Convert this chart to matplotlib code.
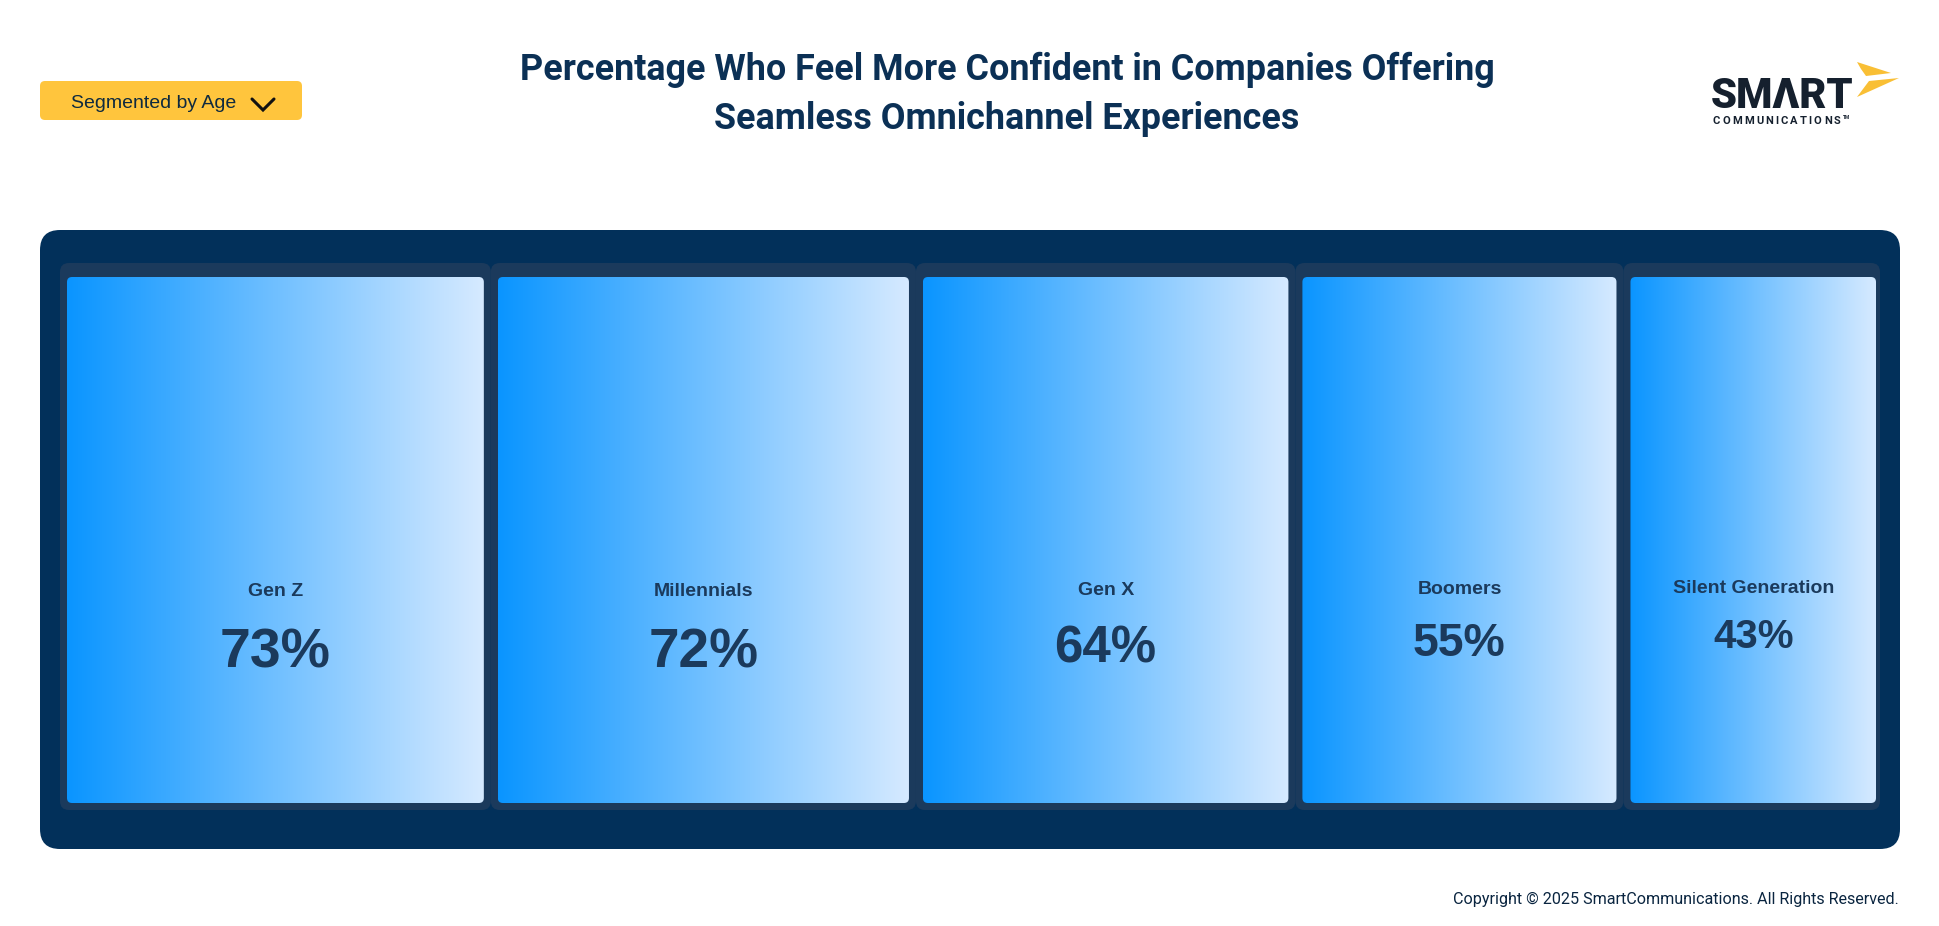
import numpy as np
import matplotlib
matplotlib.use("Agg")
import matplotlib.pyplot as plt
from matplotlib.patches import FancyBboxPatch, Polygon
from matplotlib.colors import LinearSegmentedColormap
from matplotlib.lines import Line2D

# data
groups = ["Gen Z", "Millennials", "Gen X", "Boomers", "Silent Generation"]
values = [73, 72, 64, 55, 43]
title_lines = ["Percentage Who Feel More Confident in Companies Offering",
               "Seamless Omnichannel Experiences"]

W, H = 1940, 926
fig = plt.figure(figsize=(W / 100, H / 100), dpi=100)
fig.patch.set_facecolor("white")

# background axes in pixel units
bg = fig.add_axes([0, 0, 1, 1])
bg.set_xlim(0, W)
bg.set_ylim(H, 0)
bg.axis("off")

navy = "#02305A"
strip = "#1B3A5C"
text_navy = "#0B3055"

# outer panel
bg.add_patch(FancyBboxPatch((40, 230), 1860, 619,
                            boxstyle="round,pad=0,rounding_size=20",
                            fc=navy, ec="none"))

# dropdown button
bg.add_patch(FancyBboxPatch((40, 81), 262, 39,
                            boxstyle="round,pad=0,rounding_size=5",
                            fc="#FFC53D", ec="none"))
bg.text(71, 103, "Segmented by Age", fontsize=14, family="Liberation Sans",
        color="#0F2A3F", ha="left", va="center")
bg.add_line(Line2D([252, 263, 274], [99, 110, 99], color="#111111", lw=2.2,
                   solid_capstyle="round", solid_joinstyle="miter"))

# title
for i, line in enumerate(title_lines):
    bg.text(1007, 80 + i * 49, line, fontsize=25.8, family="Roboto",
            fontweight="bold", color=text_navy, ha="center", va="baseline")

# logo
logo_col = "#15202E"
bg.text(1711, 108, "SMΛRT", fontsize=30, family="Roboto", fontweight="heavy",
        color=logo_col, ha="left", va="baseline")
renderer = fig.canvas.get_renderer()
x = 1713
for ch in "COMMUNICATIONS":
    t = bg.text(x, 124, ch, fontsize=8, family="Roboto", fontweight="bold",
                color=logo_col, ha="left", va="baseline")
    bb = t.get_window_extent(renderer=renderer)
    x += bb.width + 2.1
bg.text(x + 0.5, 119, "TM", fontsize=3.5, family="Roboto", fontweight="bold",
        color=logo_col, ha="left", va="baseline")
bg.add_patch(Polygon([(1857, 62), (1891, 73), (1866, 76), (1861, 69)],
                     closed=True, fc="#F9BF35", ec="none"))
bg.add_patch(Polygon([(1869, 81), (1899, 78), (1857, 97)],
                     closed=True, fc="#F9BF35", ec="none"))

# copyright
bg.text(1899, 899, "Copyright © 2025 SmartCommunications. All Rights Reserved.",
        fontsize=11.6, family="Roboto", color="#0A2540", ha="right", va="center")

# bar axes: x in percentage units, y in pixels
x0_px, x1_px = 67, 1876
top_px, bot_px = 277, 803
ax = fig.add_axes([x0_px / W, 1 - bot_px / H, (x1_px - x0_px) / W,
                   (bot_px - top_px) / H])
ax.axis("off")

gap_px = 14
total = sum(values)
px_per_unit = (x1_px - x0_px - gap_px * (len(values) - 1)) / total
gap = gap_px / px_per_unit
lefts = np.concatenate([[0], np.cumsum(np.array(values) + gap)[:-1]])
xmax = total + gap * (len(values) - 1)

bars = ax.bar(lefts, bot_px - top_px, width=values, bottom=top_px,
              align="edge", color="none", edgecolor="none")
ax.set_xlim(0, xmax)
ax.set_ylim(bot_px, top_px)

cmap = LinearSegmentedColormap.from_list("grad", ["#0A95FF", "#D6EAFF"])
grad = np.linspace(0, 1, 256).reshape(1, -1)
pad = 7 / px_per_unit

for i, (rect, g, v) in enumerate(zip(bars, groups, values)):
    l = rect.get_x()
    w = rect.get_width()
    # strip segment behind the bar
    pr = pad if i < len(values) - 1 else 4 / px_per_unit
    seg = FancyBboxPatch((l - pad, top_px - 14), w + pad + pr, bot_px - top_px + 21,
                         boxstyle="round,pad=0,rounding_size=%f" % (9 / px_per_unit),
                         mutation_aspect=px_per_unit,
                         fc=strip, ec="none", clip_on=False, zorder=0)
    ax.add_patch(seg)
    box = FancyBboxPatch((l, top_px), w, bot_px - top_px,
                         boxstyle="round,pad=0,rounding_size=%f" % (5 / px_per_unit),
                         mutation_aspect=px_per_unit,
                         fc="none", ec="none", zorder=1)
    ax.add_patch(box)
    im = ax.imshow(grad, cmap=cmap, aspect="auto", interpolation="bilinear",
                   extent=(l, l + w, bot_px, top_px), zorder=1)
    im.set_clip_path(box)

    cx = l + w / 2
    vs = 13.2 + 0.367 * v
    ly = 592 - (73 - v) * 0.12
    vy = ly + 14 + 1.2 * vs
    ax.text(cx, ly, g, fontsize=14, family="Liberation Sans", fontweight="bold",
            color="#1B3A5C", ha="center", va="center", zorder=3)
    ax.text(cx, vy, f"{v}%", fontsize=vs, family="Liberation Sans",
            fontweight="bold", color="#1B3A5C", ha="center", va="center", zorder=3)

ax.set_xlim(0, xmax)
ax.set_ylim(bot_px, top_px)

fig.savefig("out.png", dpi=100, facecolor="white")
